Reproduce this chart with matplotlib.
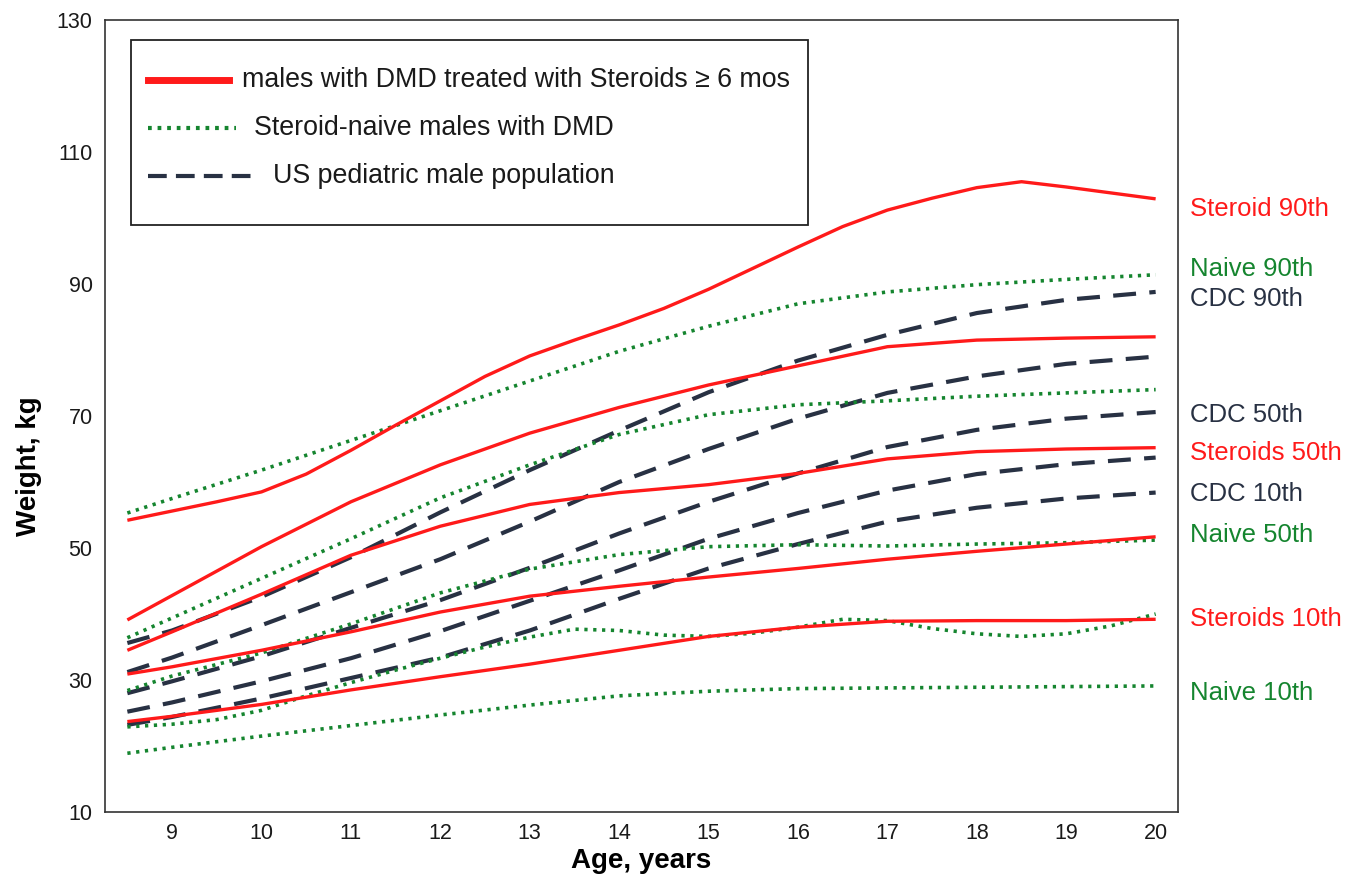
import matplotlib
matplotlib.use('Agg')
import matplotlib.pyplot as plt
from matplotlib.lines import Line2D
from matplotlib.patches import Rectangle

plt.rcParams['font.family'] = ['Liberation Sans', 'DejaVu Sans']

# ── Data (weight in kg by age in years) ──
ages = [8.5, 9, 10, 11, 12, 13, 14, 15, 16, 17, 18, 19, 20]
ages_half = [8.5, 9, 9.5, 10, 10.5, 11, 11.5, 12, 12.5, 13, 13.5, 14,
             14.5, 15, 15.5, 16, 16.5, 17, 17.5, 18, 18.5, 19, 19.5, 20]

# steroid-treated DMD (red)
steroid_p90 = [54.2, 55.6, 57.0, 58.5, 61.2, 64.8, 68.6, 72.3, 76.0, 79.1, 81.5, 83.8,
               86.3, 89.2, 92.4, 95.6, 98.7, 101.2, 103.0, 104.6, 105.5, 104.7, 103.8, 102.9]
steroid_p75 = [39.1, 42.8, 50.2, 57.0, 62.6, 67.4, 71.3, 74.7, 77.6, 80.5, 81.5, 81.8, 82.0]
steroid_p50 = [34.5, 37.3, 43.0, 48.9, 53.3, 56.6, 58.4, 59.6, 61.3, 63.5, 64.6, 65.0, 65.2]
steroid_p25 = [30.9, 32.0, 34.5, 37.3, 40.3, 42.7, 44.2, 45.6, 46.9, 48.3, 49.5, 50.6, 51.7]
steroid_p10 = [23.7, 24.5, 26.3, 28.5, 30.5, 32.4, 34.5, 36.6, 38.0, 38.9, 39.0, 39.0, 39.2]

# steroid-naive DMD (green)
naive_p90 = [55.3, 57.5, 61.8, 66.3, 70.8, 75.3, 79.8, 83.6, 87.0, 88.8, 89.9, 90.7, 91.4]
naive_p75 = [36.4, 39.4, 45.4, 51.4, 57.6, 62.6, 67.2, 70.2, 71.7, 72.3, 73.0, 73.5, 74.0]
naive_p50 = [28.4, 30.6, 34.1, 38.5, 43.2, 46.8, 49.0, 50.2, 50.5, 50.3, 50.6, 50.8, 51.2]
naive_p25 = [22.9, 23.3, 24.0, 25.4, 27.6, 29.6, 31.5, 33.3, 35.0, 36.5, 37.7, 37.5,
             36.8, 36.6, 37.1, 38.0, 39.2, 39.0, 37.8, 37.0, 36.6, 37.0, 38.2, 40.0]
naive_p10 = [18.9, 19.8, 21.5, 23.1, 24.7, 26.2, 27.6, 28.3, 28.7, 28.8, 28.9, 29.0, 29.1]

# CDC US pediatric male population (dashed)
cdc_p90 = [35.6, 37.5, 42.6, 48.6, 55.4, 61.8, 67.8, 73.6, 78.4, 82.3, 85.6, 87.6, 88.8]
cdc_p75 = [31.2, 33.4, 38.3, 43.3, 48.3, 54.0, 60.0, 65.0, 69.6, 73.5, 76.0, 77.9, 79.0]
cdc_p50 = [28.0, 29.8, 33.6, 37.9, 42.1, 47.0, 52.2, 57.0, 61.3, 65.3, 67.9, 69.6, 70.6]
cdc_p25 = [25.2, 26.6, 29.8, 33.3, 37.4, 42.0, 46.6, 51.4, 55.3, 58.7, 61.2, 62.7, 63.7]
cdc_p10 = [23.2, 24.4, 27.2, 30.3, 33.4, 37.5, 42.3, 46.9, 50.6, 54.0, 56.1, 57.5, 58.4]

x_ticks = [9, 10, 11, 12, 13, 14, 15, 16, 17, 18, 19, 20]
y_ticks = [10, 30, 50, 70, 90, 110, 130]

RED = '#ff1a1a'
GREEN = '#15852f'
NAVY = '#283143'

red_kw = dict(color=RED, lw=2.4, solid_capstyle='butt')
green_kw = dict(color=GREEN, lw=2.6, linestyle=(0, (0.9, 1.55)), dash_capstyle='butt')
cdc_kw = dict(color=NAVY, lw=3.0, linestyle=(0, (5.5, 3.2)), dash_capstyle='butt')

fig = plt.figure(figsize=(13.63, 8.84), dpi=100)
ax = fig.add_axes([105 / 1363, 72 / 884, 1073 / 1363, 792 / 884])

# ── lines ──
for ys in [cdc_p90, cdc_p75, cdc_p50, cdc_p25, cdc_p10]:
    ax.plot(ages, ys, **cdc_kw)
ax.plot(ages_half, naive_p25, **green_kw)
for ys in [naive_p90, naive_p75, naive_p50, naive_p10]:
    ax.plot(ages, ys, **green_kw)
ax.plot(ages_half, steroid_p90, **red_kw)
for ys in [steroid_p75, steroid_p50, steroid_p25, steroid_p10]:
    ax.plot(ages, ys, **red_kw)

# ── right-hand labels (at end value + small nudge) ──
end_labels = [
    ('Steroid 90th', steroid_p90, RED, -1.5),
    ('Naive 90th', naive_p90, GREEN, 0.8),
    ('CDC 90th', cdc_p90, NAVY, -1.0),
    ('CDC 50th', cdc_p50, NAVY, -0.5),
    ('Steroids 50th', steroid_p50, RED, -0.8),
    ('CDC 10th', cdc_p10, NAVY, -0.2),
    ('Naive 50th', naive_p50, GREEN, 0.7),
    ('Steroids 10th', steroid_p10, RED, 0.0),
    ('Naive 10th', naive_p10, GREEN, -1.0),
]
for txt, ys, col, dy in end_labels:
    ax.text(20.38, ys[-1] + dy, txt, color=col, fontsize=18.5, ha='left', va='center',
            clip_on=False)

# ── legend box drawn by hand ──
ax.add_patch(Rectangle((0.0242, 0.741), 0.631, 0.234, transform=ax.transAxes,
                       fill=False, edgecolor='#222222', lw=1.3, zorder=5))
ax.add_line(Line2D([0.040, 0.1156], [0.924, 0.924], transform=ax.transAxes,
                   color=RED, lw=5, zorder=6))
ax.add_line(Line2D([0.040, 0.122], [0.864, 0.864], transform=ax.transAxes,
                   color=GREEN, lw=3, linestyle=(0, (0.9, 1.4)), zorder=6))
ax.add_line(Line2D([0.040, 0.143], [0.803, 0.803], transform=ax.transAxes,
                   color=NAVY, lw=3, linestyle=(0, (4.5, 2.2)), zorder=6))
leg_kw = dict(transform=ax.transAxes, fontsize=19.3, color='#1a1a1a', va='center', ha='left', zorder=6)
ax.text(0.128, 0.924, 'males with DMD treated with Steroids \u2265 6 mos', **leg_kw)
ax.text(0.139, 0.864, 'Steroid-naive males with DMD', **leg_kw)
ax.text(0.157, 0.803, 'US pediatric male population', **leg_kw)

# ── axes styling ──
ax.set_xlim(8.25, 20.25)
ax.set_ylim(10, 130)
ax.set_xticks(x_ticks)
ax.set_yticks(y_ticks)
ax.tick_params(axis='both', length=0, labelsize=15.5, colors='#1a1a1a')
ax.tick_params(axis='y', pad=9)
ax.tick_params(axis='x', pad=8)
for sp in ax.spines.values():
    sp.set_color('#333333')
    sp.set_linewidth(1.2)

ax.set_xlabel('Age, years', fontsize=20, fontweight='bold')
ax.set_ylabel('Weight, kg', fontsize=20, fontweight='bold')
ax.xaxis.set_label_coords(0.5, -0.045)
ax.yaxis.set_label_coords(-0.059, 0.437)

fig.savefig('out.png', dpi=100)
